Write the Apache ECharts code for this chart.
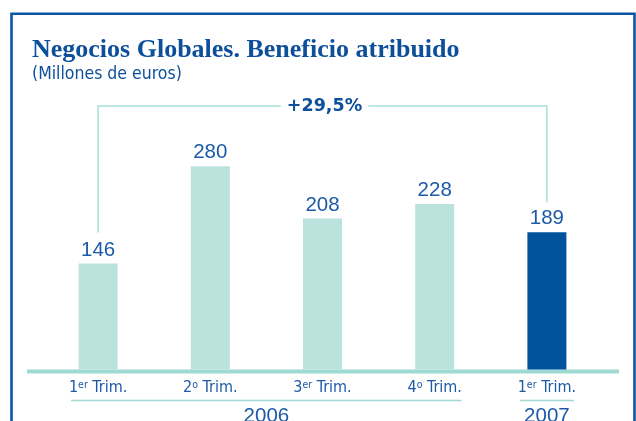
<!DOCTYPE html>
<html>
<head>
<meta charset="utf-8">
<script src="https://cdn.jsdelivr.net/npm/echarts@6/dist/echarts.min.js"></script>
<style>
  html, body { margin: 0; padding: 0; background: #fff; }
  #chart { width: 636px; height: 421px; }
</style>
</head>
<body>
<div id="chart"></div>
<script>
// Datos del gráfico
const quarterNumbers = ['1', '2', '3', '4', '1'];
const quarterSuffixes = ['er', 'o', 'er', 'o', 'er'];
const quarterYears = ['2006', '2006', '2006', '2006', '2007'];
const profit = [146, 280, 208, 228, 189];
const growthLabel = '+29,5%';
const titleText = 'Negocios Globales. Beneficio atribuido';
const subtitleText = '(Millones de euros)';

const categories = quarterNumbers.map((n, i) => n + quarterSuffixes[i] + ' Trim. ' + quarterYears[i]);

const TEXT_BLUE = '#1d5aa6';
const TITLE_BLUE = '#0d4f9b';
const FRAME_BLUE = '#0a55a5';
const BAR_LIGHT = '#bae3de';
const BAR_DARK = '#00529c';
const TEAL_LINE = '#9fd9d3';
const NARROW = '"DejaVu Sans Condensed", sans-serif';
const SANS = '"Liberation Sans", Arial, sans-serif';

const chart = echarts.init(document.getElementById('chart'));

chart.setOption({
    animation: false,
    title: [
        {
            text: titleText,
            left: 27,
            top: 32,
            textStyle: { fontFamily: '"Liberation Serif", serif', fontWeight: 'bold', fontSize: 26, color: TITLE_BLUE }
        },
        {
            text: subtitleText,
            left: 27,
            top: 60,
            textStyle: { fontFamily: NARROW, fontWeight: 'normal', fontSize: 17.5, color: TITLE_BLUE }
        }
    ],
    grid: { left: 42, right: 33, top: 79, bottom: 51.5 },
    xAxis: {
        type: 'category',
        data: categories,
        axisLine: { show: false },
        axisTick: { show: false },
        axisLabel: {
            interval: 0,
            margin: 10,
            formatter: (value, index) => '{n|' + quarterNumbers[index] + '}{s|' + quarterSuffixes[index] + '}{n| Trim.}',
            rich: {
                n: { fontFamily: NARROW, fontSize: 16, lineHeight: 17, color: TEXT_BLUE },
                s: { fontFamily: NARROW, fontSize: 10.5, lineHeight: 11, color: TEXT_BLUE, verticalAlign: 'top' }
            }
        }
    },
    yAxis: {
        type: 'value',
        min: 0,
        max: 400,
        show: false
    },
    series: [{
        type: 'bar',
        data: profit,
        barWidth: 39,
        itemStyle: {
            color: (p) => quarterYears[p.dataIndex] === '2007' ? BAR_DARK : BAR_LIGHT
        },
        label: {
            show: true,
            position: 'top',
            distance: 3,
            fontFamily: SANS,
            fontSize: 20.5,
            color: TEXT_BLUE
        }
    }]
});

// Elementos gráficos calculados a partir de las escalas del propio gráfico
const toPx = (i, v) => chart.convertToPixel({ seriesIndex: 0 }, [i, v]);
const graphics = [];

// Marco azul
graphics.push({
    type: 'rect',
    shape: { x: 11.5, y: 13.8, width: 623, height: 430 },
    style: { fill: 'none', stroke: FRAME_BLUE, lineWidth: 2.6 },
    silent: true
});

// Línea base
const zeroY = toPx(0, 0)[1];
graphics.push({
    type: 'rect',
    shape: { x: 27, y: zeroY, width: 592, height: 4 },
    style: { fill: TEAL_LINE },
    silent: true
});

// Corchete de crecimiento
const last = profit.length - 1;
const bracketTop = 106;
const left = toPx(0, profit[0]);
const right = toPx(last, profit[last]);
graphics.push({
    type: 'polyline',
    shape: { points: [[left[0], left[1] - 31], [left[0], bracketTop], [right[0], bracketTop], [right[0], right[1] - 30]] },
    style: { fill: 'none', stroke: '#a9dfd8', lineWidth: 1.5 },
    silent: true
});
graphics.push({
    type: 'text',
    x: (left[0] + right[0]) / 2 + 2,
    y: bracketTop,
    style: {
        text: growthLabel,
        fontFamily: '"DejaVu Sans", sans-serif',
        fontWeight: 'bold',
        fontSize: 17.5,
        fill: TITLE_BLUE,
        align: 'center',
        verticalAlign: 'middle',
        backgroundColor: '#fff',
        padding: [0, 6]
    },
    silent: true
});

// Agrupación por años
const years = [...new Set(quarterYears)];
years.forEach((year) => {
    const first = quarterYears.indexOf(year);
    const lastIdx = quarterYears.lastIndexOf(year);
    const x0 = toPx(first, 0)[0] - 27;
    const x1 = toPx(lastIdx, 0)[0] + 27;
    graphics.push({
        type: 'line',
        shape: { x1: x0, y1: 400.5, x2: x1, y2: 400.5 },
        style: { stroke: TEAL_LINE, lineWidth: 1.5 },
        silent: true
    });
    graphics.push({
        type: 'text',
        x: (x0 + x1) / 2,
        y: 406,
        style: {
            text: year,
            fontFamily: SANS,
            fontSize: 20.5,
            fill: TEXT_BLUE,
            align: 'center',
            verticalAlign: 'top'
        },
        silent: true
    });
});

chart.setOption({ graphic: graphics });
</script>
</body>
</html>
